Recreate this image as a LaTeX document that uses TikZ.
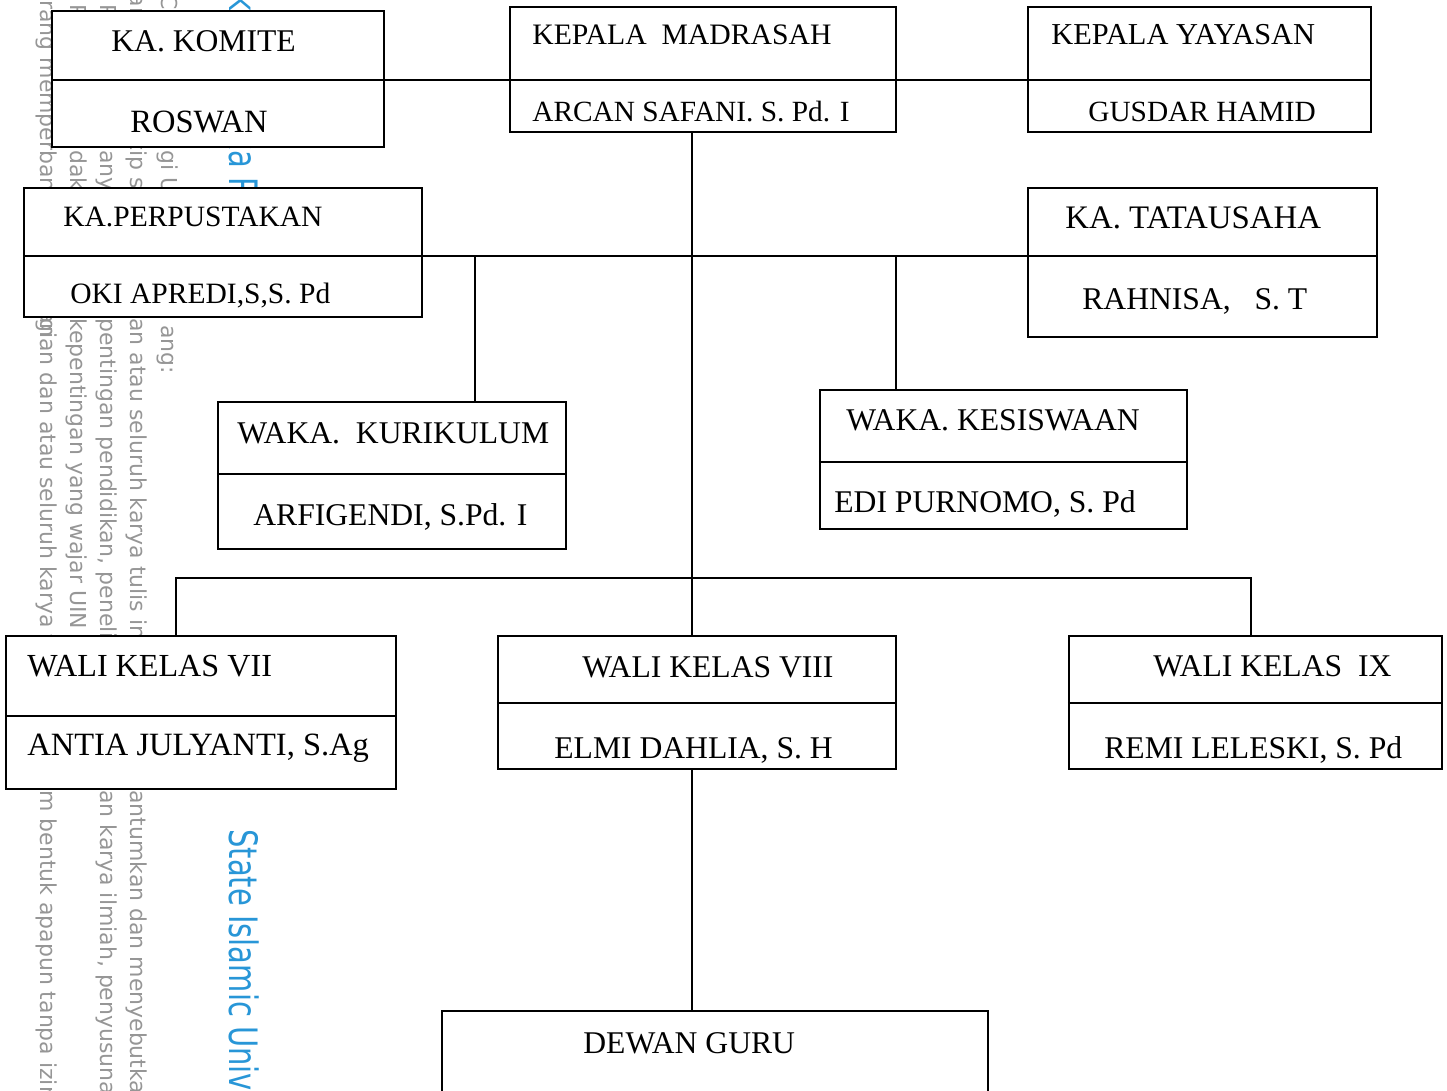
\documentclass[tikz,border=0pt]{standalone}
\usepackage{fontspec}
\setmainfont{Liberation Serif}
\newfontfamily\wmfont{DejaVu Sans}
\usetikzlibrary{fit}
\definecolor{wmgrey}{RGB}{150,150,150}
\definecolor{wmblue}{RGB}{40,150,215}
\begin{document}
\begin{tikzpicture}[x=0.02cm, y=-0.02cm,
  box/.style={draw, line width=1.3pt, fill=white, inner sep=0pt},
  divline/.style={line width=1.2pt},
  conn/.style={line width=1pt},
  lbl/.style={anchor=base west, inner sep=0pt, font=\fontsize{#1}{20}\selectfont},
  lbl/.default=18,
  wm/.style={anchor=base west, inner sep=0pt, rotate=-90, text=wmgrey, font=\wmfont\fontsize{12.5}{14}\selectfont},
  wme/.style={wm, anchor=base east},
  wmb/.style={anchor=base west, inner sep=0pt, rotate=-90, text=wmblue, font=\wmfont\fontsize{16.5}{18}\selectfont},
  wmbe/.style={wmb, anchor=base east}]
\useasboundingbox (0,0) rectangle (1447,1091);

% ---------- watermark (behind) ----------
\node[wme] (wa1) at (161,150) {Hak Cipta Dilindun};
\node[wm]  (wa2) at (161,150) {gi Und};
\node[wm]  (wa3) at (161,325) {ang:};
\node[wme] (wb1) at (130,150) {1. Dilarang mengut};
\node[wm]  (wb2) at (130,150) {ip sebag};
\node[wm]  (wb3) at (130,318) {an atau seluruh karya tulis ini tanpa menc};
\node[wm]  (wb4) at (130,790) {antumkan dan menyebutkan sumber:};
\node[wme] (wc1) at (100,150) {a. Pengutipan h};
\node[wm]  (wc2) at (100,150) {anya untuk ke};
\node[wm]  (wc3) at (100,318) {pentingan pendidikan, penelitian, penulis};
\node[wm]  (wc4) at (100,790) {an karya ilmiah, penyusunan laporan};
\node[wme] (wd1) at (70,150) {b. Pengutipan ti};
\node[wm]  (wd2) at (70,150) {dak merugikan};
\node[wm]  (wd3) at (70,318) {kepentingan yang wajar UIN Suska Riau.};
\node[wme] (we1) at (40,0) {2. Dila};
\node[wm]  (we2) at (40,0) {rang memperbanyak sebagian};
\node[wm]  (we3) at (40,318) {gian dan atau seluruh karya tulis ini dala};
\node[wm]  (we4) at (40,790) {m bentuk apapun tanpa izin UIN Suska Riau.};
\node[wmbe] (wz1) at (229,150) {\scalebox{1}[1.35]{Hak cipta milik UIN Susk}};
\node[wmb]  (wz2) at (229,150) {\scalebox{1}[1.35]{a Riau}};
\node[wmb]  (wz3) at (229,829) {\scalebox{1}[1.35]{State Islamic University of Sultan Syarif Kasim Riau}};

% ---------- rows ----------
\coordinate (r80) at (0,80);
\coordinate (r256) at (0,256);
\coordinate (tr) at (692,0);

% ---------- boxes ----------
\node[box, fit={(52,11) (384,147)}]    (komite) {};
\node[box, fit={(510,7) (896,132)}]    (madrasah) {};
\node[box, fit={(1028,7) (1371,132)}]  (yayasan) {};
\node[box, fit={(24,188) (422,317)}]   (perpus) {};
\node[box, fit={(1028,188) (1377,337)}] (tu) {};
\node[box, fit={(218,402) (566,549)}]  (kurikulum) {};
\node[box, fit={(820,390) (1187,529)}] (kesiswaan) {};
\node[box, fit={(6,636) (396,789)}]    (wali7) {};
\node[box, fit={(498,636) (896,769)}]  (wali8) {};
\node[box, fit={(1069,636) (1442,769)}] (wali9) {};
\node[box, fit={(442,1011) (988,1110)}] (dewan) {};

% ---------- dividers ----------
\draw[divline] (komite.west |- r80) -- (komite.east |- r80);
\draw[divline] (madrasah.west |- r80) -- (madrasah.east |- r80);
\draw[divline] (yayasan.west |- r80) -- (yayasan.east |- r80);
\draw[divline] (perpus.west |- r256) -- (perpus.east |- r256);
\draw[divline] (tu.west |- r256) -- (tu.east |- r256);
\coordinate (r473) at (0,474);
\coordinate (r462) at (0,462);
\coordinate (r716) at (0,716);
\coordinate (r703) at (0,703);
\draw[divline] (kurikulum.west |- r473) -- (kurikulum.east |- r473);
\draw[divline] (kesiswaan.west |- r462) -- (kesiswaan.east |- r462);
\draw[divline] (wali7.west |- r716) -- (wali7.east |- r716);
\draw[divline] (wali8.west |- r703) -- (wali8.east |- r703);
\draw[divline] (wali9.west |- r703) -- (wali9.east |- r703);

% ---------- texts ----------
\node[lbl] (t1a) at (111,52)  {KA. KOMITE};
\node[lbl=18.5] (t1b) at (130,133) {ROSWAN};
\node[lbl=16.9] (t2a) at (532,45)  {KEPALA\ \ MADRASAH};
\node[lbl=16.7] (t2b) at (532,122) {ARCAN SAFANI. S. Pd. I};
\node[lbl=17.3] (t3a) at (1051,45) {KEPALA YAYASAN};
\node[lbl=16.7] (t3b) at (1088,122) {GUSDAR HAMID};
\node[lbl=16.8] (t4a) at (63,227)  {KA.PERPUSTAKAN};
\node[lbl=16.8] (t4b) at (70,303)  {OKI APREDI,S,S. Pd};
\node[lbl=18.7] (t5a) at (1065,229) {KA. TATAUSAHA};
\node[lbl] (t5b) at (1082,310) {RAHNISA,\ \ \ S. T};
\node[lbl] (t6a) at (237,443) {WAKA.\ \ KURIKULUM};
\node[lbl] (t6b) at (253,525) {ARFIGENDI, S.Pd. I};
\node[lbl] (t7a) at (846,430) {WAKA. KESISWAAN};
\node[lbl] (t7b) at (834,512) {EDI PURNOMO, S. Pd};
\node[lbl=18.3] (t8a) at (27,676)  {WALI KELAS VII};
\node[lbl=18.5] (t8b) at (27,755)  {ANTIA JULYANTI, S.Ag};
\node[lbl] (t9a) at (582,677) {WALI KELAS VIII};
\node[lbl] (t9b) at (554,758) {ELMI DAHLIA, S. H};
\node[lbl] (t10a) at (1153,676) {WALI KELAS\ \ IX};
\node[lbl] (t10b) at (1104,758) {REMI LELESKI, S. Pd};
\node[lbl] (t11a) at (583,1053) {DEWAN GURU};

% ---------- connectors ----------
\draw[conn] (komite.east |- r80) -- (madrasah.west |- r80);
\draw[conn] (madrasah.east |- r80) -- (yayasan.west |- r80);
\draw[conn] (tr |- madrasah.south) -- (tr |- wali8.north);
\draw[conn] (perpus.east |- r256) -- (tu.west |- r256);
\coordinate (kj) at (475,256);
\coordinate (sj) at (896,256);
\draw[conn] (kj) -- (kj |- kurikulum.north);
\draw[conn] (sj) -- (sj |- kesiswaan.north);
\coordinate (wl) at (176,578);
\coordinate (wr) at (1251,578);
\draw[conn] (wl |- wali7.north) -- (wl) -- (wr) -- (wr |- wali9.north);
\draw[conn] (tr |- wali8.south) -- (tr |- dewan.north);
\end{tikzpicture}
\end{document}
